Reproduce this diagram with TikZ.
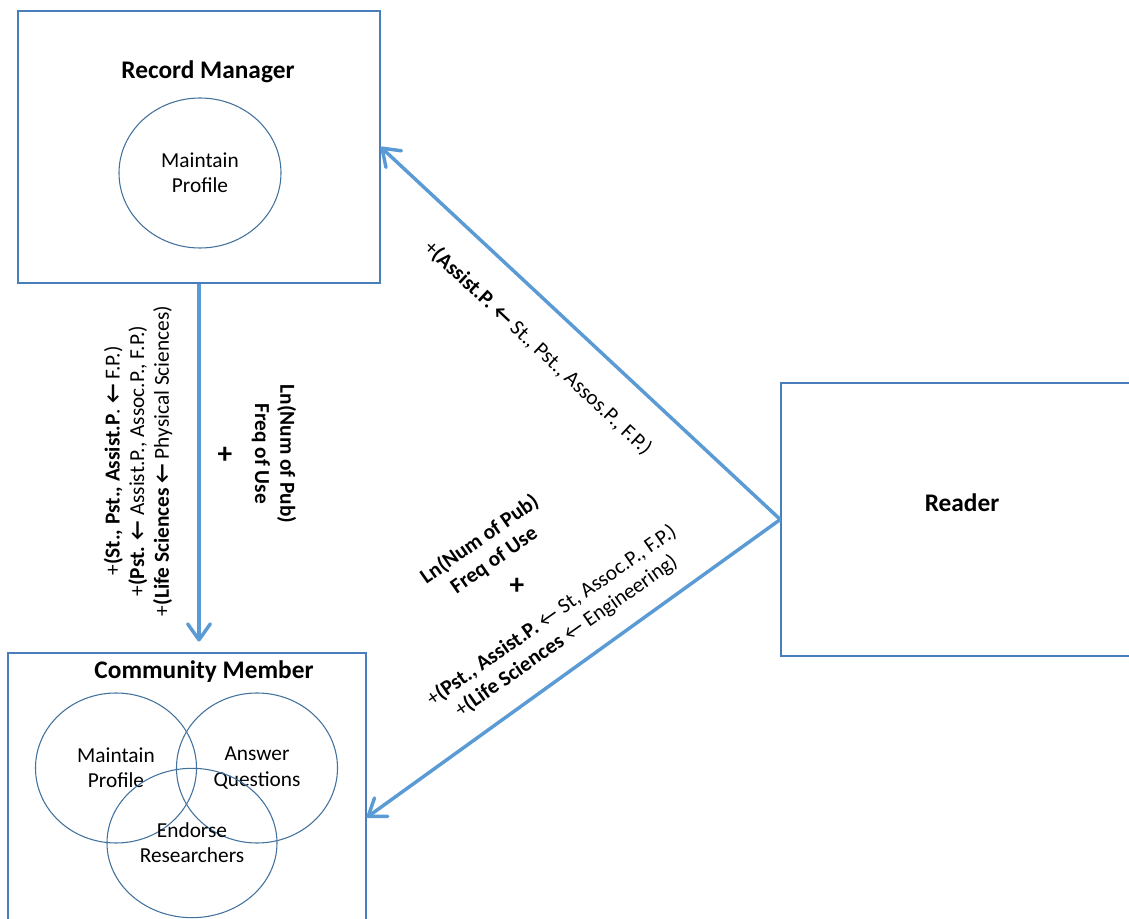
\documentclass[tikz,border=0pt]{standalone}
\usepackage{fontspec}
\setmainfont{Carlito}
\newfontfamily\arrowfont{DejaVu Sans}
\usetikzlibrary{arrows.meta,shapes.geometric}
\newcommand{\myarr}{←}
\definecolor{boxblue}{HTML}{4A7EBB}
\definecolor{arrblue}{HTML}{5B9BD5}
\definecolor{circblue}{HTML}{41719C}
\begin{document}
\begin{tikzpicture}[x=0.75pt,y=-0.75pt,
 box/.style={draw=boxblue,line width=1.1pt,rectangle,inner sep=0pt},
 ell/.style={draw=circblue,line width=0.8pt,ellipse,inner sep=0pt,align=center,font=\fontsize{16}{19}\selectfont},
 title/.style={font=\bfseries\fontsize{19}{23}\selectfont,inner sep=0pt},
 lbl/.style={font=\fontsize{16}{19}\selectfont,inner sep=0pt,align=center},
 blbl/.style={font=\bfseries\fontsize{16}{19}\selectfont,inner sep=0pt,align=center},
 plus/.style={font=\bfseries\fontsize{22}{24}\selectfont,inner sep=0pt},
 arr/.style={draw=arrblue,line width=2.6pt,-{Straight Barb[length=12pt,width=17pt,round]}}
]
\useasboundingbox (0,0) rectangle (1129,919);
\clip (0,0) rectangle (1129,919);
% Record Manager
\node[box,minimum width=271.5pt,minimum height=204pt] (rm) at (199,147) {};
\node[title] (rmt) at (208,72) {Record Manager};
\node[ell,minimum width=121.5pt,minimum height=112.5pt] (rmc) at (200,173) {Maintain\\Profile};
% Community Member
\node[box,minimum width=268.5pt,minimum height=204pt] (cm) at (187,789) {};
\node[title] (cmt) at (204,672) {Community Member};
\node[ell,minimum width=120.75pt,minimum height=112.5pt] (c1) at (116,768) {Maintain\\Profile};
\node[ell,minimum width=120.75pt,minimum height=112.5pt] (c2) at (257,768) {Answer\\Questions};
\node[ell,minimum width=127.5pt,minimum height=112pt] (c3) at (192,843) {Endorse\\Researchers};
% Reader
\node[box,minimum width=265.5pt,minimum height=204.75pt] (rd) at (958,519.5) {};
\node[title] (rdt) at (962,503) {Reader};
% arrows
\draw[arr] (rd.west) -- (rm.east);
\draw[arr] (rd.west) -- (cm.-9.2);
\draw[arr,shorten >=8pt] (rm.south) -- (rm.south |- cm.north);
% vertical labels
\node[lbl,rotate=90,font=\fontsize{16}{18.5}\selectfont] (lv) at (138,461) {+\textbf{(St., Pst., Assist.P}. \textbf{\myarr} F.P.)\\+\textbf{(Pst.} \textbf{\myarr} Assist.P., Assoc.P., F.P.)\\+\textbf{(Life Sciences} \textbf{\myarr} Physical Sciences)};
\node[plus] (p1) at (225,455) {+};
\node[blbl,rotate=-90] (rv) at (274,454) {Ln(Num of Pub)\\Freq of Use};
% upper diagonal label
\node[lbl,rotate=-43] (ud) at (538,348) {+\textbf{(Assist.P.} \textbf{\myarr} St., Pst., Assos.P., F.P.)};
% lower diagonal labels
\node[blbl,rotate=35] (ld1) at (487,550) {Ln(Num of Pub)\\Freq of Use};
\node[plus] (p2) at (517,586) {+};
\node[lbl,rotate=35] (ld2) at (559,626) {+\textbf{(Pst., Assist.P.} \myarr{} St, Assoc.P., F.P.)\\+\textbf{(Life Sciences} \myarr{} Engineering)};
\end{tikzpicture}
\end{document}
